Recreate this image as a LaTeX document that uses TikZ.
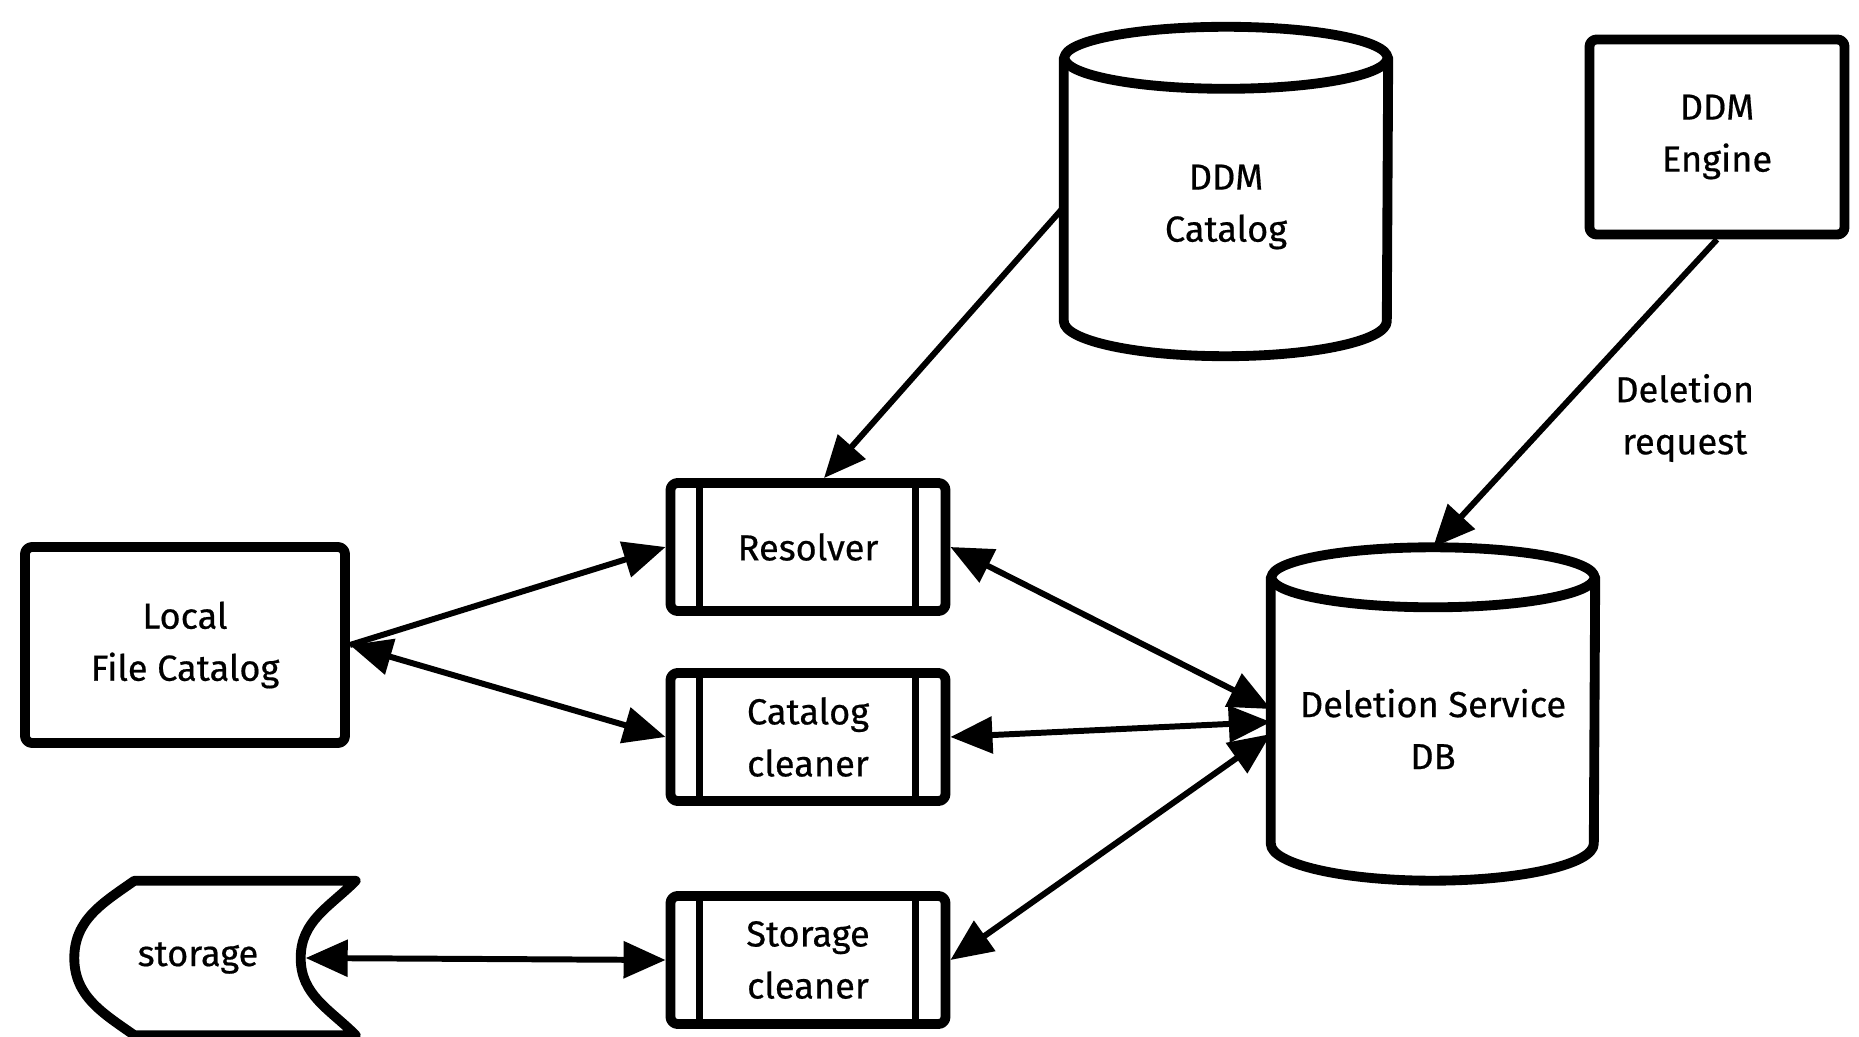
\documentclass[tikz,border=0pt]{standalone}
\usepackage{fontspec}
\setmainfont{Fira Sans}[FakeBold=0.5]
\usetikzlibrary{arrows.meta, positioning}

\tikzset{
  sketch/.style={line width=2.8pt, line cap=round, line join=round},
  txt/.style={font=\fontsize{10.3}{14.8}\selectfont, align=center, inner sep=0pt},
  plainbox/.style={txt, draw, sketch, rounded corners=2pt},
  proc/.style={txt, draw, sketch, rounded corners=2pt,
    minimum width=2.75cm, minimum height=1.28cm,
    path picture={
      \draw[line width=2pt] ([xshift=0.29cm]path picture bounding box.north west)
        -- ([xshift=0.29cm]path picture bounding box.south west);
      \draw[line width=2pt] ([xshift=-0.3cm]path picture bounding box.north east)
        -- ([xshift=-0.3cm]path picture bounding box.south east);}},
  dbbody/.style={txt, minimum width=3.23cm, minimum height=#1},
  link/.style={line width=1.7pt, -{Triangle[length=4.2mm,width=3.6mm]}},
  twoway/.style={line width=1.7pt,
    {Triangle[length=4.2mm,width=3.6mm]}-{Triangle[length=4.2mm,width=3.6mm]}}
}

\begin{document}
\begin{tikzpicture}

% canvas
\useasboundingbox[fill=white] (0,0) rectangle (18.59,-10.37);

% plain boxes
\node[plainbox, minimum width=3.2cm, minimum height=1.96cm] (lfc) at (1.85,-6.45) {Local\\File Catalog};
\node[plainbox, minimum width=2.55cm, minimum height=1.95cm] (engine) at (17.17,-1.37) {DDM\\Engine};

% databases
\node[dbbody=2.97cm] (ddmcat) at (12.26,-2.07) {DDM\\Catalog};
\node[dbbody=3.02cm] (dsdb) at (14.33,-7.29) {Deletion Service\\DB};

\foreach \n/\rt/\rb in {ddmcat/0.31/0.35, dsdb/0.30/0.37} {
  \draw[sketch] (\n.north) ellipse [x radius=1.615cm, y radius=\rt cm];
  \draw[sketch] (\n.north west) -- ([yshift=\rb cm]\n.south west)
    arc [start angle=180, end angle=360, x radius=1.615cm, y radius=\rb cm]
    -- (\n.north east);
}

% cleaners
\foreach \n/\y/\t in {resolver/-5.47/Resolver, catcl/-7.37/{Catalog\\cleaner}, scl/-9.60/{Storage\\cleaner}}
\node[proc] (\n) at (8.08,\y) {\t};

% storage
\node[txt, minimum width=2.46cm, minimum height=1.53cm] (st) at (1.98,-9.58) {storage};
\draw[sketch] ([xshift=0.6cm]st.north west) -- ([xshift=0.34cm]st.north east)
  to[out=225, in=90] ([xshift=-0.21cm]st.east) to[out=-90, in=135] ([xshift=0.34cm]st.south east)
  -- ([xshift=0.6cm]st.south west) to[out=145, in=-90] (st.west)
  to[out=90, in=215] cycle;

% connectors
\draw[link] (ddmcat.west) -- ([xshift=0.16cm]resolver.north);
\draw[link] (engine.south) -- ([yshift=0.30cm]dsdb.north)
  node[txt, pos=0.58, right=0.6cm] (req) {Deletion\\request};
\draw[link] (lfc.east) -- (resolver.west);
\draw[twoway] (lfc.east) -- (catcl.west);
\draw[twoway] (resolver.east) -- ([yshift=0.2cm]dsdb.west);
\draw[twoway] (catcl.east) -- ([yshift=0.07cm]dsdb.west);
\draw[twoway] (scl.east) -- ([yshift=-0.05cm]dsdb.west);
\draw[twoway] ([xshift=-0.16cm]st.east) -- (scl.west);

\end{tikzpicture}
\end{document}
